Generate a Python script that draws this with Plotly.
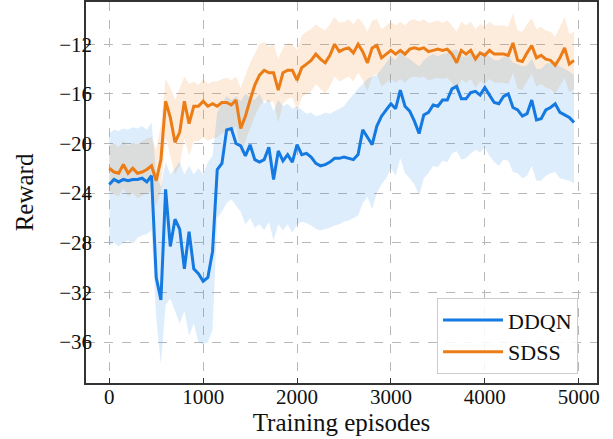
import plotly.graph_objects as go

episodes = list(range(0, 5000, 50))

ddqn_mean = [-23.3, -22.9, -23.1, -22.9, -23.0, -22.9, -22.9, -22.8, -23.1, -22.6,
             -30.8, -32.6, -23.7, -28.3, -26.1, -26.9, -30.1, -27.1, -30.1, -30.5,
             -31.1, -30.8, -28.7, -22.1, -21.6, -18.9, -18.8, -20.0, -20.2, -21.0,
             -20.1, -21.3, -21.5, -21.3, -20.3, -22.9, -20.6, -21.4, -20.9, -21.5,
             -20.1, -20.9, -20.8, -21.1, -21.6, -21.8, -21.7, -21.5, -21.2, -21.2,
             -21.1, -21.2, -21.3, -20.9, -18.9, -19.5, -20.1, -18.6, -17.8, -17.3,
             -16.8, -17.2, -15.7, -17.0, -17.4, -18.2, -19.2, -17.7, -17.5, -16.9,
             -17.0, -16.5, -16.5, -15.6, -15.4, -16.4, -16.4, -15.9, -15.8, -16.1,
             -15.5, -16.1, -16.7, -16.8, -16.2, -16.0, -17.1, -17.3, -17.8, -17.6,
             -16.5, -18.1, -18.0, -17.3, -17.1, -16.8, -17.5, -17.7, -17.9, -18.3]

ddqn_upper = [-19.2, -18.9, -19.0, -18.8, -18.9, -18.7, -18.8, -18.6, -18.9, -18.3,
              -22.5, -23.5, -21.5, -22.5, -22.0, -21.5, -22.5, -21.8, -22.5, -22.0,
              -22.5, -21.5, -21.0, -17.5, -16.8, -16.2, -16.5, -16.2, -16.6, -16.0,
              -16.3, -16.5, -16.0, -16.8, -16.4, -17.4, -16.5, -17.0, -16.8, -17.2,
              -17.0, -17.3, -17.6, -17.5, -17.8, -17.7, -17.5, -17.6, -17.4, -17.2,
              -17.0, -16.5, -16.0, -15.6, -15.2, -14.8, -14.6, -14.5, -14.0, -13.5,
              -13.0, -13.3, -12.5, -13.0, -13.2, -13.5, -13.8, -13.3, -13.0, -12.8,
              -13.0, -12.8, -12.7, -12.5, -12.4, -13.0, -13.0, -12.8, -12.8, -13.0,
              -12.6, -13.0, -13.3, -13.3, -13.0, -13.0, -13.5, -13.6, -13.8, -13.7,
              -13.2, -14.0, -14.0, -13.6, -13.5, -13.4, -13.8, -14.0, -14.2, -14.5]

ddqn_lower = [-28.2, -28.0, -28.3, -28.0, -27.8, -28.1, -27.6, -27.4, -27.3, -27.0,
              -34.0, -37.8, -33.0, -32.5, -33.5, -34.5, -33.5, -35.5, -34.5, -36.0,
              -36.2, -36.0, -35.0, -26.0, -25.5, -24.8, -24.5, -25.0, -25.5, -26.5,
              -26.0, -26.8, -26.5, -27.0, -26.3, -27.8, -26.5, -27.0, -26.5, -27.2,
              -26.5, -26.3, -26.4, -26.6, -26.9, -27.0, -26.9, -26.8, -26.6, -26.5,
              -26.3, -26.2, -26.0, -25.8, -24.8, -24.3, -25.3, -24.0, -23.3, -22.8,
              -22.0, -22.6, -21.2, -22.4, -22.8, -23.3, -24.2, -22.8, -22.4, -21.8,
              -21.9, -21.4, -21.5, -20.8, -20.6, -21.3, -21.2, -20.8, -20.5, -20.7,
              -20.3, -21.0, -21.5, -21.8, -21.3, -21.4, -22.3, -22.4, -22.8, -22.6,
              -21.8, -23.0, -23.0, -22.6, -22.4, -22.3, -22.8, -22.9, -23.0, -23.2]

sdss_mean = [-22.0, -22.3, -22.4, -21.7, -22.4, -22.0, -22.4, -22.3, -22.1, -21.8,
             -23.0, -21.3, -16.6, -17.9, -19.9, -19.1, -16.6, -18.4, -17.0, -17.0,
             -16.6, -17.0, -16.8, -17.0, -16.7, -16.7, -16.9, -16.5, -18.8, -17.8,
             -16.5, -15.3, -14.5, -14.1, -14.3, -14.3, -15.7, -14.3, -14.1, -14.1,
             -14.9, -13.9, -13.6, -13.3, -12.8, -13.2, -13.5, -12.9, -12.0, -12.6,
             -12.4, -12.3, -12.7, -12.0, -12.6, -13.5, -12.3, -12.1, -13.1, -12.8,
             -12.5, -12.8, -12.5, -12.8, -12.4, -12.3, -12.4, -12.3, -12.6, -12.5,
             -12.4, -12.5, -12.4, -12.8, -13.5, -12.5, -12.8, -12.5, -13.2, -12.7,
             -12.9, -12.5, -12.8, -12.8, -12.8, -12.9, -11.9, -13.3, -13.4, -12.7,
             -12.1, -13.1, -12.9, -13.2, -13.3, -13.7, -13.1, -12.3, -13.6, -13.3]

sdss_upper = [-20.2, -20.0, -20.3, -19.8, -20.2, -19.9, -20.1, -19.8, -19.6, -19.5,
              -20.5, -18.5, -14.8, -15.5, -16.5, -15.5, -14.6, -15.2, -15.0, -15.3,
              -14.8, -15.2, -15.0, -15.0, -14.8, -14.7, -14.9, -14.6, -15.5, -14.5,
              -13.5, -12.8, -12.0, -11.8, -12.2, -12.0, -13.2, -12.3, -11.9, -12.0,
              -12.5, -11.3, -11.0, -10.8, -10.4, -10.7, -10.9, -10.4, -9.8, -10.3,
              -10.2, -10.0, -10.4, -9.9, -10.3, -11.0, -10.1, -10.0, -10.8, -10.5,
              -10.2, -10.5, -10.2, -10.5, -10.1, -10.0, -10.2, -10.0, -10.3, -10.2,
              -10.1, -10.3, -10.1, -10.5, -11.0, -10.2, -10.5, -10.2, -10.8, -10.4,
              -10.6, -10.2, -10.5, -10.5, -10.5, -10.6, -9.5, -10.9, -11.0, -10.4,
              -9.9, -10.8, -10.6, -10.9, -11.0, -11.4, -10.6, -9.8, -11.2, -11.0]

sdss_lower = [-23.8, -24.1, -24.3, -23.6, -24.3, -24.0, -24.4, -24.2, -24.0, -23.8,
              -25.0, -23.8, -19.5, -21.0, -22.5, -21.8, -19.6, -21.0, -19.8, -19.8,
              -19.5, -19.8, -19.6, -19.5, -19.2, -19.0, -19.1, -18.6, -20.8, -19.8,
              -18.8, -17.8, -17.0, -16.5, -16.7, -16.6, -18.3, -16.8, -16.4, -16.3,
              -17.3, -16.3, -16.0, -15.8, -15.2, -15.6, -16.0, -15.4, -14.6, -15.0,
              -14.8, -14.6, -15.0, -14.3, -14.9, -15.8, -14.6, -14.4, -15.4, -15.1,
              -14.8, -15.1, -14.8, -15.1, -14.7, -14.6, -14.7, -14.6, -14.9, -14.8,
              -14.7, -14.8, -14.7, -15.1, -15.8, -14.8, -15.1, -14.8, -15.5, -15.0,
              -15.2, -14.8, -15.1, -15.1, -15.1, -15.2, -14.3, -15.6, -15.7, -15.0,
              -14.4, -15.4, -15.2, -15.5, -15.6, -16.0, -15.4, -14.7, -15.9, -15.6]

x_ticks = [0, 1000, 2000, 3000, 4000, 5000]
x_ticktext = ["0", "1000", "2000", "3000", "4000", "5000"]
y_ticks = [-36, -32, -28, -24, -20, -16, -12]
y_ticktext = ["\u221236", "\u221232", "\u221228", "\u221224", "\u221220", "\u221216", "\u221212"]

BLUE = "#1479e0"
ORANGE = "#ec7c16"
BLUE_FILL = "rgba(30,136,229,0.15)"
ORANGE_FILL = "rgba(245,130,30,0.16)"

fig = go.Figure()

# bands
fig.add_trace(go.Scatter(x=episodes, y=sdss_upper, mode="lines", line=dict(width=0),
                         showlegend=False, hoverinfo="skip"))
fig.add_trace(go.Scatter(x=episodes, y=sdss_lower, mode="lines", line=dict(width=0),
                         fill="tonexty", fillcolor=ORANGE_FILL, showlegend=False, hoverinfo="skip"))
fig.add_trace(go.Scatter(x=episodes, y=ddqn_upper, mode="lines", line=dict(width=0),
                         showlegend=False, hoverinfo="skip"))
fig.add_trace(go.Scatter(x=episodes, y=ddqn_lower, mode="lines", line=dict(width=0),
                         fill="tonexty", fillcolor=BLUE_FILL, showlegend=False, hoverinfo="skip"))

# mean lines
fig.add_trace(go.Scatter(x=episodes, y=ddqn_mean, mode="lines", name="DDQN",
                         line=dict(color=BLUE, width=3)))
fig.add_trace(go.Scatter(x=episodes, y=sdss_mean, mode="lines", name="SDSS",
                         line=dict(color=ORANGE, width=3)))

font_family = "Liberation Serif, Times New Roman, serif"

fig.update_layout(
    width=613, height=439,
    margin=dict(l=86, r=16, t=2, b=56),
    paper_bgcolor="white", plot_bgcolor="white",
    font=dict(family=font_family, size=21, color="#111"),
    showlegend=True,
    legend=dict(
        x=0.687, y=0.2225, xanchor="left", yanchor="top",
        traceorder="normal",
        bgcolor="rgba(255,255,255,0.85)", bordercolor="#cccccc", borderwidth=1,
        font=dict(family=font_family, size=22, color="#111"),
        itemwidth=60, tracegroupgap=4,
    ),
)

fig.update_xaxes(
    range=[-248, 5195], automargin=False,
    tickvals=x_ticks, ticktext=x_ticktext,
    ticks="inside", ticklen=5, tickwidth=1.2, tickcolor="#333",
    ticklabelstandoff=-6,
    showline=True, linecolor="#333", linewidth=1.5, mirror=True,
    showgrid=True, gridcolor="#b8b8b8", griddash="dash", gridwidth=1,
    zeroline=False,
    tickfont=dict(family=font_family, size=21, color="#111"),
    title=dict(text="Training episodes", font=dict(family=font_family, size=25, color="#111"),
               standoff=2),
)
fig.update_yaxes(
    range=[-39.3, -8.6], automargin=False,
    tickvals=y_ticks, ticktext=y_ticktext,
    ticks="inside", ticklen=5, tickwidth=1.2, tickcolor="#333",
    ticklabelstandoff=-12,
    showline=True, linecolor="#333", linewidth=1.5, mirror=True,
    showgrid=True, gridcolor="#b8b8b8", griddash="dash", gridwidth=1,
    zeroline=False,
    tickfont=dict(family=font_family, size=21, color="#111"),
    title=dict(text="Reward", font=dict(family=font_family, size=25, color="#111"),
               standoff=18),
)

fig.write_html("out.html", post_script="document.body.style.margin='0';",
               config={"displayModeBar": False})
